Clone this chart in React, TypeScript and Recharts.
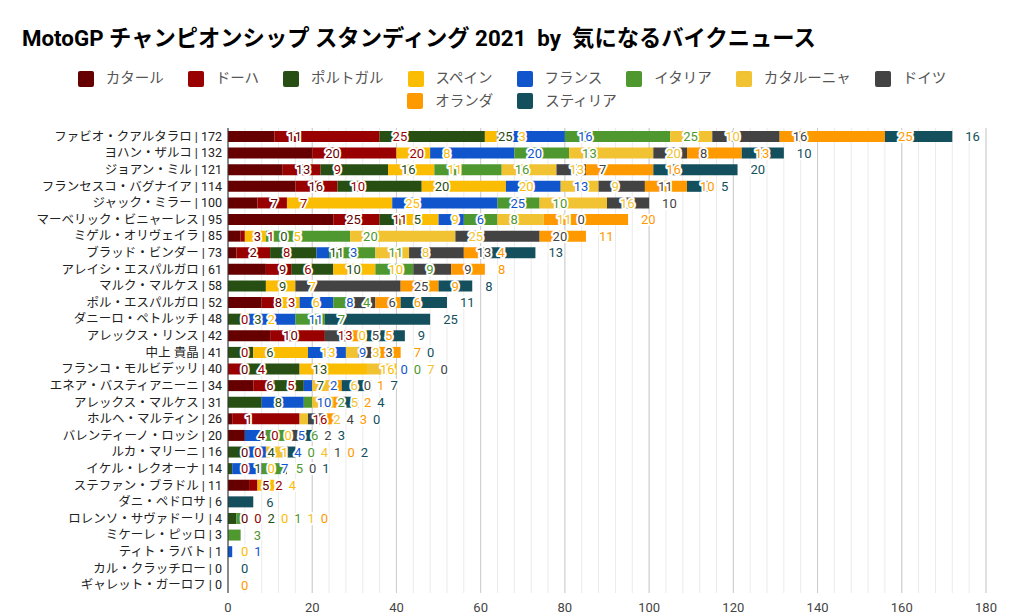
import React from "react";
import { Bar, BarChart, CartesianGrid, LabelList, XAxis, YAxis } from "recharts";

const RIDERS = [
  "ファビオ・クアルタラロ", "ヨハン・ザルコ", "ジョアン・ミル", "フランセスコ・バグナイア",
  "ジャック・ミラー", "マーベリック・ビニャーレス", "ミゲル・オリヴェイラ", "ブラッド・ビンダー",
  "アレイシ・エスパルガロ", "マルク・マルケス", "ポル・エスパルガロ", "ダニーロ・ペトルッチ",
  "アレックス・リンス", "中上 貴晶", "フランコ・モルビデッリ", "エネア・バスティアニーニ",
  "アレックス・マルケス", "ホルヘ・マルティン", "バレンティーノ・ロッシ", "ルカ・マリーニ",
  "イケル・レクオーナ", "ステファン・ブラドル", "ダニ・ペドロサ", "ロレンソ・サヴァドーリ",
  "ミケーレ・ピッロ", "ティト・ラバト", "カル・クラッチロー", "ギャレット・ガーロフ",
];

// points per race; null = no result (no label drawn)
const QATAR = [11, 20, 13, 16, 7, 25, 3, 2, 9, null, 8, null, 10, null, 0, 6, null, 1, 4, 0, null, 5, null, 0, null, null, null, null];
const DOHA = [25, 20, 9, 10, 7, 11, 1, 8, 6, null, 3, 0, 13, 0, 4, 5, null, 16, 0, 0, 0, 2, null, 0, null, null, null, null];
const PORTUGAL = [25, null, 16, 20, null, 5, 0, 11, 10, 9, null, 3, null, 6, 13, 7, 8, null, null, 4, 1, null, null, 2, null, null, null, null];
const SPAIN = [3, 8, 11, 20, 25, 9, 5, null, 10, 7, 6, 2, 0, 13, 16, null, null, null, 0, 1, 0, 4, null, 0, null, 0, null, null];
const FRANCE = [16, 20, null, 13, 25, 6, null, 3, null, null, 8, 11, null, 9, 0, 2, 10, null, 5, 4, 7, null, null, null, null, 1, null, null];
const ITALY = [25, 13, 16, null, 10, 8, 20, 11, 9, null, 4, 7, null, null, 0, null, 2, null, 6, 0, 5, null, null, 1, 3, null, null, null];
const CATALUNYA = [10, 20, 13, 9, 16, 11, 25, 8, null, null, null, null, null, 3, 7, 6, 5, 2, null, 4, null, null, null, 1, null, null, null, null];
const GERMANY = [16, 8, 7, 11, 10, 0, 20, 13, 9, 25, 6, null, 5, 3, 0, 0, null, 4, 2, 1, 0, null, null, null, null, null, null, null];
const NETHERLANDS = [25, 13, 16, 10, null, 20, 11, 4, 8, 9, 6, null, 5, 7, null, 1, 2, 3, null, 0, null, null, null, 0, null, null, null, 0];
const STYRIA = [16, 10, 20, 5, null, null, null, 13, null, 8, 11, 25, 9, 0, null, 7, 4, 0, 3, 2, 1, null, 6, null, null, null, 0, null];

const X_TICKS = [0, 20, 40, 60, 80, 100, 120, 140, 160, 180];

const SERIES = [
  { key: "qatar", name: "カタール", color: "#660000", values: QATAR },
  { key: "doha", name: "ドーハ", color: "#990000", values: DOHA },
  { key: "portugal", name: "ポルトガル", color: "#274e13", values: PORTUGAL },
  { key: "spain", name: "スペイン", color: "#fbbc04", values: SPAIN },
  { key: "france", name: "フランス", color: "#1155cc", values: FRANCE },
  { key: "italy", name: "イタリア", color: "#4f982f", values: ITALY },
  { key: "catalunya", name: "カタルーニャ", color: "#f1c232", values: CATALUNYA },
  { key: "germany", name: "ドイツ", color: "#434343", values: GERMANY },
  { key: "netherlands", name: "オランダ", color: "#ff9900", values: NETHERLANDS },
  { key: "styria", name: "スティリア", color: "#134f5c", values: STYRIA },
];

const W = 1024;
const H = 616;
const Y_AXIS_W = 228;
const MARGIN = { top: 128, right: 38, bottom: 0, left: 0 };
const X_MAX = X_TICKS[X_TICKS.length - 1];
const FONT = "Roboto, 'Noto Sans CJK JP', sans-serif";

const data = RIDERS.map((name, i) => {
  const row: Record<string, any> = { rowIndex: i, anchor: X_MAX };
  let total = 0;
  SERIES.forEach((s) => {
    row[s.key] = s.values[i] ?? 0;
    total += s.values[i] ?? 0;
  });
  row.label = `${name} | ${total}`;
  return row;
});

const minorTicks: number[] = [];
for (let v = 0; v <= X_MAX; v += 4) minorTicks.push(v);

// google-style "outside end" labels, pushed right so they don't overlap each other
const DIGIT_W = 7.3;
function RowLabels(props: any) {
  const vb = props.viewBox ?? props;
  const i = Number(props.value);
  const px = Number(vb.width) / X_MAX;
  const y = Number(vb.y) + Number(vb.height) / 2;
  let cum = 0;
  let prevRight = -Infinity;
  const out: React.ReactNode[] = [];
  SERIES.forEach((s) => {
    const v = s.values[i];
    cum += v ?? 0;
    if (v == null) return;
    const end = Number(vb.x) + cum * px;
    const left = Math.max(end + 13, prevRight + 6);
    prevRight = left + String(v).length * DIGIT_W;
    out.push(
      <text
        key={s.key}
        x={left}
        y={y}
        dy="0.36em"
        fill={s.color}
        fontSize={13}
        fontFamily={FONT}
        stroke="#fff"
        strokeWidth={4}
        strokeLinejoin="round"
        paintOrder="stroke"
      >
        {v}
      </text>,
    );
  });
  return <g>{out}</g>;
}

function RiderTick(props: any) {
  return (
    <text x={props.x} y={props.y} dy="0.36em" textAnchor="end" fontSize={12.5} fill="#222" fontFamily={FONT}>
      {props.payload.value}
    </text>
  );
}

function Legend() {
  return (
    <div
      style={{
        position: "absolute",
        top: 70,
        left: 32,
        width: 960,
        display: "flex",
        flexWrap: "wrap",
        justifyContent: "center",
        columnGap: 24,
        rowGap: 5.5,
      }}
    >
      {SERIES.map((s) => (
        <div key={s.key} style={{ display: "flex", alignItems: "center", height: 17 }}>
          <span style={{ width: 16, height: 16, borderRadius: 2, background: s.color, marginRight: 12 }} />
          <span style={{ fontSize: 14.5, color: "#555", lineHeight: "17px" }}>{s.name}</span>
        </div>
      ))}
    </div>
  );
}

export default function App() {
  return (
    <div style={{ position: "relative", width: W, height: H, fontFamily: FONT, background: "#fff" }}>
      <style>{"body{margin:0}"}</style>
      <div
        style={{
          position: "absolute",
          left: 22,
          top: 20,
          fontSize: 22.3,
          fontWeight: 700,
          color: "#000",
          whiteSpace: "pre",
        }}
      >
        {"MotoGP チャンピオンシップ スタンディング 2021  by  気になるバイクニュース"}
      </div>
      <Legend />
      <div style={{ position: "absolute", left: 0, top: 0 }}>
        <BarChart width={W} height={H} data={data} layout="vertical" margin={MARGIN} barSize={11}>
          <CartesianGrid
            horizontal={false}
            stroke="#ebebeb"
            verticalCoordinatesGenerator={({ xAxis, offset }: any) =>
              minorTicks.map((v) =>
                xAxis && typeof xAxis.scale === "function" ? xAxis.scale(v) : offset.left + (v / X_MAX) * offset.width,
              )
            }
          />
          <CartesianGrid horizontal={false} stroke="#cccccc" />
          <XAxis
            type="number"
            domain={[0, X_MAX]}
            ticks={X_TICKS}
            height={23}
            axisLine={false}
            tickLine={false}
            tickMargin={4}
            tick={{ fontSize: 13, fill: "#444", fontFamily: FONT }}
          />
          <YAxis
            type="category"
            dataKey="label"
            width={Y_AXIS_W}
            interval={0}
            tickLine={false}
            tickMargin={0}
            axisLine={{ stroke: "#333" }}
            tick={<RiderTick />}
          />
          <YAxis yAxisId="labels" type="category" dataKey="label" hide />
          {SERIES.map((s) => (
            <Bar key={s.key} dataKey={s.key} name={s.name} stackId="a" fill={s.color} isAnimationActive={false} />
          ))}
          <Bar yAxisId="labels" dataKey="anchor" fill="none" isAnimationActive={false} legendType="none">
            <LabelList dataKey="rowIndex" content={<RowLabels />} />
          </Bar>
        </BarChart>
      </div>
    </div>
  );
}
